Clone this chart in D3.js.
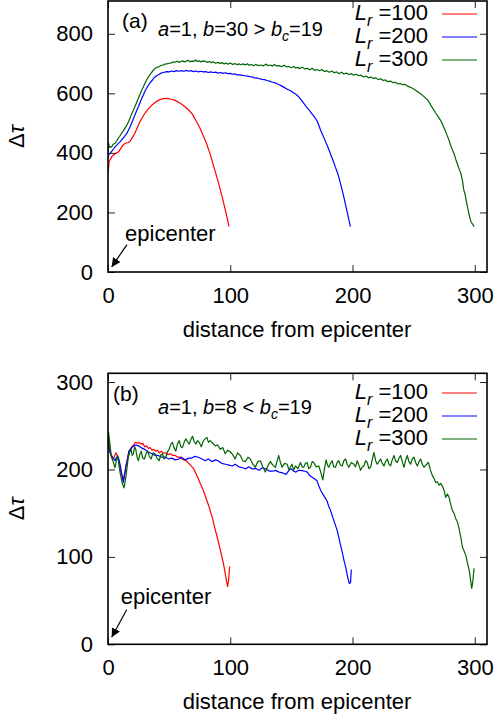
<!DOCTYPE html>
<html>
<head>
<meta charset="utf-8">
<script src="https://cdn.jsdelivr.net/npm/d3@7"></script>
<style>
body { margin: 0; background: #fff; }
svg { display: block; font-family: "Liberation Sans", Arial, sans-serif; }
</style>
</head>
<body>
<div id="chart"></div>
<script>
// ---- data ----
var xTicks = [0, 100, 200, 300];
var yTicksA = [0, 200, 400, 600, 800];
var yTicksB = [0, 100, 200, 300];
var lrLabels = ["100", "200", "300"];
var colors = ["#ff0000", "#0000ff", "#006400"];

// panel (a): a=1, b=30
var redA = [[0,330],[1,372],[2,378],[3,387],[5,395],[7,400],[9,405],[10,412],[12,425],[14,432],[16,434],[18,438],[20,452],[22,466],[24,485],[26,504],[28,518],[30,532],[33,548],[36,561],[39,571],[42,578],[45,582],[48,583],[51,581],[54,578],[57,572],[60,564],[63,555],[66,544],[69,530],[72,508],[75,485],[78,457],[81,427],[84,390],[87,347],[90,305],[93,258],[96,208],[99,152]];

var blueA = [[0,383],[0.6,395],[1.5,397],[3,405],[4.5,413],[5.7,420],[7,425],[8.5,432],[10,438],[11,443],[12.5,450],[14,458],[15.5,466],[16.7,476],[18,487],[19,497],[20.5,512],[22,527],[23.5,542],[25,556],[26.3,570],[27.6,583],[29,595],[30,605],[31.5,617],[33,627],[34.5,636],[36,643],[37.3,650],[38.5,655],[40,660],[42,664],[43.5,668],[45,670],[46.5,671],[48,673],[50,672],[52,675],[54,673],[56,676],[58,674],[60,676],[62,674],[64,677],[66,674],[68,676],[70,673],[72,675],[74,672],[76,674],[78,672],[80,673],[82,670],[84,672],[86,670],[88,671],[90,668],[92,670],[94,667],[96,669],[98,666],[100,667],[102,664],[104,665],[106,662],[108,662],[110,660],[112,659],[114,658],[116,656],[118,655],[120,652],[122,651],[124,649],[126,647],[128,646],[130,643],[132,641],[134,638],[136,636],[138,633],[140,629],[142,625],[144,620],[146,615],[148,611],[150,607],[152,601],[154,596],[156,588],[158,578],[160,567],[162,556],[164,546],[165.6,538],[167,530],[169,520],[171,508],[172.5,492],[174,475],[175.5,462],[177,447],[178.5,432],[180,418],[181.5,402],[183,385],[184.5,370],[186,352],[187.5,336],[189,315],[190,300],[191.5,276],[193,250],[194.5,222],[196,195],[197.2,172],[198.3,152]];

var greenA = [[0,398],[0.5,432],[1.2,418],[2,421],[3,420],[4,428],[5.7,432],[7,440],[8,447],[9.5,455],[11,465],[12.5,474],[14,484],[15.5,494],[16.7,504],[18,516],[19,528],[20.5,541],[22,555],[23.5,570],[25,585],[26.3,598],[27.6,611],[29,622],[30,632],[31.5,644],[33,655],[34.5,664],[36,672],[37.3,679],[38.5,683],[40,687],[42,690],[43.5,694],[45,695],[46.5,698],[48,699],[50,701],[52,702],[53.5,706],[55,704],[56.5,708],[58,704],[59.5,707],[61,709],[62.5,705],[64,708],[65.5,711],[67,706],[68.5,708],[70,707],[71.5,712],[73,707],[74.5,709],[76,705],[77.5,709],[79.5,708],[81,704],[83,707],[84.5,703],[86,706],[88,701],[90,704],[91.5,700],[93,703],[95,699],[96.5,702],[98,698],[100,702],[102,697],[104,700],[105.5,696],[107,699],[109,696],[110.5,699],[112,695],[114,699],[115.5,694],[117,697],[119,693],[121,697],[123,693],[125,695],[127,692],[129,698],[131,693],[133,695],[134.5,691],[136,697],[138,692],[140,693],[142,689],[144,694],[146,689],[148,690],[150,686],[152,690],[153.5,685],[155,687],[157,683],[159,688],[161,682],[163,684],[165,679],[167,684],[169,677],[171,680],[173,676],[175,680],[177,673],[179,676],[181,671],[183,675],[185,669],[187,672],[189,666],[191,671],[193,665],[195,668],[197,663],[199,666],[201,661],[203,664],[205,659],[207,661],[209,655],[211,658],[213,652],[215,655],[217,650],[219,652],[221,646],[223,649],[225,643],[227,645],[229,639],[231,641],[233,636],[235,637],[237,632],[239,633],[241,629],[243,630],[245,624],[247,621],[249,617],[251,612],[253,606],[255,600],[257,594],[258.5,589],[260,583],[261.5,577],[263,568],[264.5,557],[266.6,543],[268,534],[269.5,525],[271,516],[272.5,506],[274,492],[275.5,478],[277,463],[278.5,447],[280,428],[281.5,412],[283,398],[284.5,378],[286,360],[287.5,342],[288.5,333],[290,305],[291,276],[292,262],[293.5,229],[295,200],[296,182],[297,168],[298.3,160],[299.5,152]];

// panel (b): a=1, b=8
var redB = [[0,241],[0.8,230],[1.6,221],[2.5,215],[3.5,212],[4.4,212],[5.5,216],[6.5,219],[7.5,216],[8.5,211],[9.8,202],[11,195],[12.5,189],[13.5,195],[15,206],[16.5,216],[18,223],[19.5,226],[21,228],[22.5,231],[24,230],[25.5,231],[27,229],[28.5,230],[30,226],[31.5,227],[33,224],[34.5,225],[36,222],[37.5,223],[39,221],[40.5,222],[42,219],[43.5,221],[45,219],[47,219],[49,217],[51,218],[53,216],[55,216],[57,214],[59,214],[60.5,212],[62,211],[64,210],[66,207],[68,204],[70,201],[72,195],[74,189],[75.5,184],[76.8,180],[78,176],[79.5,170],[81,164],[82.5,158],[84,151],[85.5,144],[87,135],[88.5,127],[90,119],[91.5,110],[93,101],[94.5,92],[96,80],[97,72],[97.8,66],[98.6,73],[99.5,89]];

var blueB = [[0,235],[1,221],[3,216],[5.7,210],[7,214],[8.5,214],[10,205],[11,197],[12.5,185],[13.5,192],[14.5,202],[16,212],[17,221],[19,224],[21,227],[23,228],[25,227],[27,225],[30,223],[33,220],[36,218],[38.5,216],[41,216],[44,214],[47,214],[50,212],[52,213],[55,211],[58,212],[60,214],[63,211],[66,213],[68.6,213],[71,215],[74,214],[77,212],[79.5,210],[82,212],[85,209],[88,211],[90.4,209.6],[93,207],[96,206],[99,205],[101.6,204],[104,206],[107,203],[110,202],[112.7,200.7],[115,203],[118,200.7],[121,201],[123.6,199],[126,202],[129,200.7],[132,198],[134.5,198],[137,199],[140,197],[143,196],[145.6,194.4],[148,199],[149.7,200.7],[152,198],[153.7,197],[156,199],[159,198.7],[161,198],[163,197],[165,193],[167,191],[169,189],[171,187],[172.5,181],[174,176],[176.5,170],[179,164.5],[180.5,158],[182,153],[184.7,141.7],[187.5,130],[190,115],[191.5,106],[193,96],[194.5,88],[196,77],[197.4,69.5],[198.4,71],[199,85.5]];

var greenB = [[0,226],[0.4,243],[1.6,229],[2.5,218],[3.5,212],[4.6,207],[5.7,202],[6.8,210],[7.9,216],[8.8,207],[9.8,197],[10.8,190],[11.7,184],[13.1,179],[14,186],[14.8,193],[15.8,205],[16.7,214],[17.8,220],[18.9,223],[19.8,216],[20.8,218],[21.8,226],[22.7,223],[23.8,214],[24.9,210],[26,217],[27.1,221],[28.4,213],[29.8,212],[31.1,218],[32.5,221],[33.8,215],[35.3,212],[36.8,219],[38.5,218],[40,213],[41.8,210],[43,216],[44.5,218],[45.9,212],[47.3,214],[48.6,220],[50,223],[51.4,229],[52.7,231],[54,225],[55.5,221],[56.8,229],[58.2,233],[59.6,226],[60.9,225],[62.3,231],[63.7,235],[65,232],[66.4,229],[67.7,234],[69.1,238],[70.5,232],[71.9,229],[73.2,233],[74.6,231],[76.3,226],[78.1,233],[79.5,235],[80.9,236.7],[82.2,231],[83.6,233],[85.7,230],[87.7,227],[89.8,228],[91.8,223],[93.8,225],[95.9,218],[98,222],[100,220],[102,217],[104,212],[106,219],[108.2,216],[110.3,210],[112.3,209],[114.4,214],[116.4,212],[118.5,206],[120.5,202.5],[122.5,209],[124.6,210],[126.6,203],[128.7,197],[130.7,204],[132.8,209],[134.8,205],[136.9,202.5],[138.2,209],[139.6,216],[141,208],[142.4,202.5],[144.5,207],[146.5,206],[148,200],[149.2,202.5],[150.5,206],[151.9,199],[153.3,204],[155.3,201],[157.4,208],[158.8,203],[160.1,202.5],[161.5,207],[162.8,208],[164.2,201],[165.6,202.5],[167,209],[168.3,208],[170.3,203],[172.4,204],[174,197],[175.7,188],[177,200],[178.4,211],[179.5,205],[180.6,202.5],[182,207],[183.3,210],[184.7,203],[186.1,202.5],[187.4,208],[188.8,210],[190.1,205],[191.5,204],[192.9,210],[194.3,212],[195.6,206],[197,202.5],[199,208],[201.1,206],[202.5,203],[203.8,210],[205.2,205],[206.6,199],[208,203],[209.3,204],[210.7,210],[212,208],[213.4,201],[214.8,202.5],[216.1,211],[217.5,219.6],[218.9,210],[220.2,206],[221.6,209],[223,212],[224.3,207],[225.7,204],[227,209],[228.4,212],[229.8,206],[231.1,204],[232.5,211],[233.9,216],[235.2,210],[236.6,208],[238,213],[239.3,216],[240.7,209],[242.1,202.5],[243.4,210],[244.8,216],[246.2,209],[247.5,206],[248.9,212],[250.3,214],[251.6,208],[253,204],[254.4,209],[255.7,212],[257.1,206],[258.5,202.5],[260,205],[262,208],[263.6,200],[265.3,193],[266.7,190],[268,185],[269.4,186],[270.8,182],[272.1,184],[273.5,181],[274.9,176],[276.2,168],[277.6,172],[279,168],[280.3,160],[281.7,153],[283,150],[284.4,144],[285.8,140],[287.2,132],[288.5,123],[289.9,111],[291.2,107],[292.6,102],[294,93],[295.4,85],[296.5,74],[297.5,64],[298.4,72],[299.4,87]];

// ---- layout ----
var W = 497, H = 717;
var svg = d3.select("#chart").append("svg").attr("width", W).attr("height", H);
svg.append("rect").attr("width", W).attr("height", H).attr("fill", "#fff");

var x = d3.scaleLinear().domain([0, 310]).range([108, 487]);

svg.append("defs").append("marker")
    .attr("id", "arrow")
    .attr("viewBox", "0 0 10 10")
    .attr("refX", 10).attr("refY", 5)
    .attr("markerWidth", 9).attr("markerHeight", 9)
    .attr("markerUnits", "userSpaceOnUse")
    .attr("orient", "auto")
    .append("path").attr("d", "M0,0L10,5L0,10z").attr("fill", "#000");

var panels = [
    { id: "a", top: 1, bottom: 272, ymax: 910, yticks: yTicksA, series: [redA, blueA, greenA],
      tag: "(a)", tagX: 122, tagY: 28, b: "30", rel: ">", parY: 36,
      legY: [20, 43, 66], epi: [14, 104], arr: [[15.5, 92], [3, 17]] },
    { id: "b", top: 373.3, bottom: 644.3, ymax: 310, yticks: yTicksB, series: [redB, blueB, greenB],
      tag: "(b)", tagX: 113, tagY: 401, b: "8", rel: "<", parY: 414,
      legY: [399, 422, 445], epi: [10.4, 46], arr: [[15.3, 39.5], [3, 8]] }
];

panels.forEach(function(p) {
    var y = d3.scaleLinear().domain([0, p.ymax]).range([p.bottom, p.top]);
    var g = svg.append("g");

    g.append("clipPath").attr("id", "clip-" + p.id)
        .append("rect").attr("x", 108).attr("y", p.top)
        .attr("width", 487 - 108).attr("height", p.bottom - p.top);

    // curves
    var line = d3.line().x(function(d) { return x(d[0]); }).y(function(d) { return y(d[1]); });
    p.series.forEach(function(s, i) {
        g.append("path").datum(s)
            .attr("clip-path", "url(#clip-" + p.id + ")")
            .attr("fill", "none")
            .attr("stroke", colors[i])
            .attr("stroke-width", 1.2)
            .attr("stroke-linejoin", "round")
            .attr("d", line);
    });

    // axes with inward ticks on all four sides
    var axL = g.append("g").attr("transform", "translate(108,0)")
        .call(d3.axisLeft(y).tickValues(p.yticks).tickSize(-7).tickSizeOuter(0).tickPadding(15));
    var axR = g.append("g").attr("transform", "translate(487,0)")
        .call(d3.axisRight(y).tickValues(p.yticks).tickSize(-7).tickSizeOuter(0).tickFormat(""));
    var axB = g.append("g").attr("transform", "translate(0," + p.bottom + ")")
        .call(d3.axisBottom(x).tickValues(xTicks).tickSize(-7).tickSizeOuter(0).tickPadding(15));
    var axT = g.append("g").attr("transform", "translate(0," + p.top + ")")
        .call(d3.axisTop(x).tickValues(xTicks).tickSize(-7).tickSizeOuter(0).tickFormat(""));
    [axL, axR, axB, axT].forEach(function(a) {
        a.select(".domain").remove();
        a.selectAll(".tick line").attr("stroke", "#222").attr("stroke-width", 1);
        a.selectAll("text").attr("font-family", "Liberation Sans, Arial, sans-serif")
            .attr("font-size", 22).attr("fill", "#000");
    });

    // frame
    g.append("rect").attr("x", 108).attr("y", p.top)
        .attr("width", 487 - 108).attr("height", p.bottom - p.top)
        .attr("fill", "none").attr("stroke", "#000").attr("stroke-width", 1.6);

    // axis titles
    g.append("text")
        .attr("x", 297).attr("y", p.bottom + 64.5)
        .attr("text-anchor", "middle").attr("font-size", 22)
        .text("distance from epicenter");
    var yl = g.append("text")
        .attr("transform", "translate(24," + (p.top + p.bottom) / 2 + ") rotate(-90)")
        .attr("text-anchor", "middle").attr("font-size", 22);
    yl.append("tspan").text("\u0394");
    yl.append("tspan").attr("font-style", "italic").text("\u03c4");

    // panel tag and parameters
    g.append("text").attr("x", p.tagX).attr("y", p.tagY).attr("font-size", 21).text(p.tag);
    var par = g.append("text").attr("x", 158).attr("y", p.parY).attr("font-size", 20);
    par.append("tspan").attr("font-style", "italic").text("a");
    par.append("tspan").text("=1, ");
    par.append("tspan").attr("font-style", "italic").text("b");
    par.append("tspan").text("=" + p.b + " " + p.rel + " ");
    par.append("tspan").attr("font-style", "italic").text("b");
    par.append("tspan").attr("font-style", "italic").attr("font-size", 14).attr("dy", 5).text("c");
    par.append("tspan").attr("dy", -5).text("=19");

    // legend
    lrLabels.forEach(function(lab, i) {
        var t = g.append("text").attr("x", 428).attr("y", p.legY[i])
            .attr("text-anchor", "end").attr("font-size", 22);
        t.append("tspan").attr("font-style", "italic").text("L");
        t.append("tspan").attr("font-style", "italic").attr("font-size", 16).attr("dy", 6).text("r");
        t.append("tspan").attr("dy", -6).text(" =" + lab);
        g.append("line")
            .attr("x1", 442).attr("x2", 477)
            .attr("y1", p.legY[i] - 6).attr("y2", p.legY[i] - 6)
            .attr("stroke", colors[i]).attr("stroke-width", 1.2);
    });

    // epicenter annotation
    g.append("text").attr("x", x(p.epi[0])).attr("y", y(p.epi[1]))
        .attr("font-size", 22).text("epicenter");
    g.append("line")
        .attr("x1", x(p.arr[0][0])).attr("y1", y(p.arr[0][1]))
        .attr("x2", x(p.arr[1][0])).attr("y2", y(p.arr[1][1]))
        .attr("stroke", "#000").attr("stroke-width", 1.2)
        .attr("marker-end", "url(#arrow)");
});
</script>
</body>
</html>
